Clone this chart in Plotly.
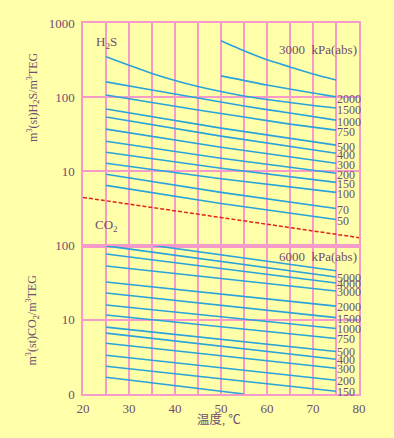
import numpy as np
import plotly.graph_objects as go

# ---------------- data ----------------
h2s_pressures = ["3000", "2000", "1500", "1000", "750", "500", "400", "300", "200", "150", "100", "70", "50"]
h2s_temps = [
    [50, 55, 60, 65, 70, 75],
    [50, 60, 70, 75],
    [25, 30, 35, 40, 45, 50, 55, 60, 65, 70, 75],
    [25, 35, 45, 55, 65, 75],
    [25, 35, 45, 55, 65, 75],
    [25, 50, 75],
    [25, 50, 75],
    [25, 50, 75],
    [25, 50, 75],
    [25, 50, 75],
    [25, 50, 75],
    [25, 50, 75],
    [25, 50, 75],
]
h2s_values = [
    [576, 422, 319, 256, 206, 171],
    [194, 146, 114, 101],
    [350, 268.5, 209.3, 168.3, 139.6, 119.4, 103.8, 93.1, 84.8, 77.2, 71.4],
    [161, 125, 97.5, 76, 61.1, 49.1],
    [107, 84.8, 67.1, 54, 43.4, 36],
    [69.2, 38.3, 22.6],
    [54.0, 29.9, 17.6],
    [37.1, 21.2, 12.9],
    [25.5, 15.0, 9.43],
    [18.1, 11.0, 7.12],
    [12.9, 7.94, 5.21],
    [9.14, 5.21, 3.17],
    [6.48, 3.70, 2.25],
]

co2_pressures = ["6000", "5000", "4000", "3000", "2000", "1500", "1000", "750", "500", "400", "300", "200", "150", ""]
co2_temps = [[25, 75]] * 13 + [[25, 55]]
co2_values = [
    [123, 45.9],
    [99.1, 37.8],
    [77.2, 31.3],
    [53.2, 24.4],
    [32.3, 15.3],
    [23.0, 10.7],
    [15.8, 7.65],
    [11.6, 5.61],
    [7.97, 3.74],
    [6.61, 2.94],
    [4.84, 2.22],
    [3.33, 1.53],
    [2.37, 1.09],
    [1.68, 1.0],
]

dash_temps = [20, 80]
dash_values = [4.46, 1.28]

x_ticks = list(range(20, 81, 5))
x_ticktext = [str(v) if v % 10 == 0 else "" for v in x_ticks]
h2s_yticks = [10, 100, 1000]
h2s_yticktext = ["10", "100", "1000"]
co2_yticks = [1, 10, 100]
co2_yticktext = ["0", "10", "100"]

# ---------------- style ----------------
BG = "#FFFFAA"
GRID = "#F59AC9"
CURVE = "#2AA2DA"
TXT = "#6E4E70"
FONT = "Liberation Serif, DejaVu Serif, serif"

fig = go.Figure()

for t, v in zip(h2s_temps, h2s_values):
    fig.add_trace(go.Scatter(x=t, y=v, mode="lines", xaxis="x", yaxis="y",
                             line=dict(color=CURVE, width=1.6, shape="spline", smoothing=0.6),
                             showlegend=False, hoverinfo="skip"))
for t, v in zip(co2_temps, co2_values):
    fig.add_trace(go.Scatter(x=t, y=v, mode="lines", xaxis="x2", yaxis="y2",
                             line=dict(color=CURVE, width=1.6), showlegend=False, hoverinfo="skip"))
fig.add_trace(go.Scatter(x=dash_temps, y=dash_values, mode="lines", xaxis="x", yaxis="y",
                         line=dict(color="#E0241E", width=1.5, dash="4px,2px"),
                         showlegend=False, hoverinfo="skip"))

annotations = []
# right-hand pressure labels
for p, t, v in zip(h2s_pressures[1:], h2s_temps[1:], h2s_values[1:]):
    annotations.append(dict(x=t[-1], y=np.log10(v[-1]), xref="x", yref="y", text=p,
                            xanchor="left", yanchor="middle", xshift=-1, yshift=-2, showarrow=False,
                            font=dict(family=FONT, size=12, color=TXT)))
for p, t, v in zip(co2_pressures[1:], co2_temps[1:], co2_values[1:]):
    if p:
        annotations.append(dict(x=t[-1], y=np.log10(v[-1]), xref="x2", yref="y2", text=p,
                                xanchor="left", yanchor="middle", xshift=-1, yshift=-1, showarrow=False,
                                font=dict(family=FONT, size=12, color=TXT)))

annotations += [
    dict(x=79.9, y=2.64, xref="x", yref="y", text=h2s_pressures[0] + "\u00a0\u00a0kPa(abs)",
         xanchor="right", yanchor="middle", showarrow=False, font=dict(family=FONT, size=13, color=TXT)),
    dict(x=79.9, y=1.847, xref="x2", yref="y2", text=co2_pressures[0] + "\u00a0\u00a0kPa(abs)",
         xanchor="right", yanchor="middle", showarrow=False, font=dict(family=FONT, size=13, color=TXT)),
    dict(x=25, y=2.733, xref="x", yref="y", text="H<sub>2</sub>S",
         xanchor="center", yanchor="middle", showarrow=False, font=dict(family=FONT, size=13, color=TXT)),
    dict(x=25, y=0.27, xref="x", yref="y", text="CO<sub>2</sub>",
         xanchor="center", yanchor="middle", showarrow=False, font=dict(family=FONT, size=13, color=TXT)),
    dict(x=-0.182, y=2.0, xref="paper", yref="y", text="m<sup>3</sup>(st)H<sub>2</sub>S/m<sup>3</sup>TEG",
         textangle=-90, xanchor="center", yanchor="middle", showarrow=False,
         font=dict(family=FONT, size=12, color=TXT)),
    dict(x=-0.182, y=1.0, xref="paper", yref="y2", text="m<sup>3</sup>(st)CO<sub>2</sub>/m<sup>3</sup>TEG",
         textangle=-90, xanchor="center", yanchor="middle", showarrow=False,
         font=dict(family=FONT, size=12, color=TXT)),
    dict(x=0.491, y=-0.070, xref="paper", yref="paper", text="温度, ℃",
         xanchor="center", yanchor="middle", showarrow=False,
         font=dict(family="Liberation Serif, Noto Sans CJK SC", size=12.5, color=TXT)),
]

axis_common = dict(showgrid=True, gridcolor=GRID, gridwidth=1.5, showline=True, mirror=True,
                   linecolor=GRID, linewidth=1.5, zeroline=False, ticks="",
                   tickfont=dict(family=FONT, size=13, color=TXT))

fig.update_layout(
    width=394, height=438, autosize=False,
    margin=dict(l=83, r=35, t=23, b=44, autoexpand=False),
    paper_bgcolor=BG, plot_bgcolor=BG,
    xaxis=dict(domain=[0, 1], anchor="y", range=[20, 80], tickvals=x_ticks,
               showticklabels=False, **axis_common),
    xaxis2=dict(domain=[0, 1], anchor="y2", range=[20, 80], matches="x", tickvals=x_ticks,
                ticktext=x_ticktext, ticklabelstandoff=2, **axis_common),
    yaxis=dict(domain=[0.4, 1], anchor="x", type="log", range=[0, 3], tickvals=h2s_yticks,
               ticktext=h2s_yticktext, ticklabelstandoff=4, **axis_common),
    yaxis2=dict(domain=[0, 0.4], anchor="x2", type="log", range=[0, 2], tickvals=co2_yticks,
                ticktext=co2_yticktext, ticklabelstandoff=4, **axis_common),
    annotations=annotations,
    showlegend=False,
)

fig.write_html("out.html", config={"displayModeBar": False},
               post_script="document.body.style.margin='0';document.body.style.background='" + BG + "';")
